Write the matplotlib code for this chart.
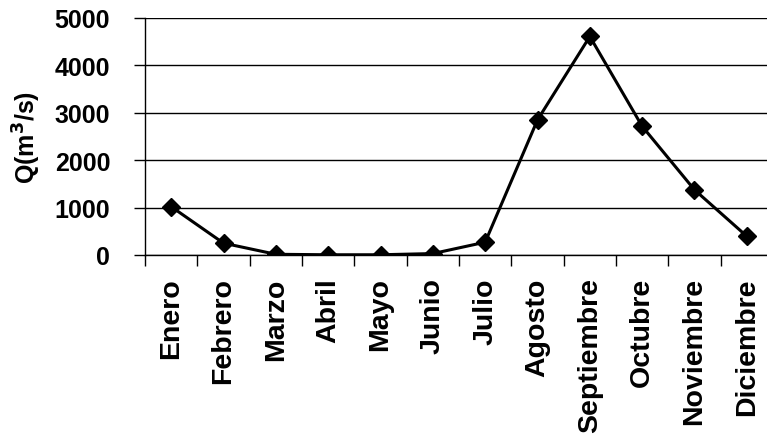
import matplotlib
matplotlib.use("Agg")
import matplotlib.pyplot as plt
from matplotlib.ticker import FixedLocator

months = ["Enero", "Febrero", "Marzo", "Abril", "Mayo", "Junio", "Julio",
          "Agosto", "Septiembre", "Octubre", "Noviembre", "Diciembre"]
flow = [1020, 250, 15, 5, 5, 30, 270, 2850, 4610, 2715, 1375, 395]
yticks = [0, 1000, 2000, 3000, 4000, 5000]

plt.rcParams["font.family"] = ["Liberation Sans", "DejaVu Sans"]
plt.rcParams["font.weight"] = "bold"

W, H = 767, 439
fig = plt.figure(figsize=(W / 100, H / 100), dpi=100)
left, right, top, bottom = 145, 773, 19, 256
ax = fig.add_axes([left / W, 1 - bottom / H, (right - left) / W, (bottom - top) / H])

x = list(range(len(months)))
ax.plot(x, flow, color="black", lw=2.2, marker="D", ms=9.5, mfc="black", mec="black")

ax.set_xlim(-0.5, len(months) - 0.5)
ax.set_ylim(0, 5000)
ax.set_yticks(yticks)
ax.set_yticklabels([str(v) for v in yticks], fontsize=18, fontweight="bold")
ax.set_xticks(x)
ax.set_xticklabels(months, rotation=90, fontsize=20.5, fontweight="bold", va="top")
ax.xaxis.set_minor_locator(FixedLocator([i - 0.5 for i in range(len(months) + 1)]))
ax.tick_params(axis="x", which="major", length=0, pad=16)
ax.tick_params(axis="x", which="minor", length=8, width=1, direction="out")
ax.tick_params(axis="y", length=8, width=1, direction="out", pad=17)

ax.grid(axis="y", color="black", lw=1)
ax.set_axisbelow(True)
for side in ("top", "right"):
    ax.spines[side].set_visible(False)
for side in ("left", "bottom"):
    ax.spines[side].set_linewidth(1)

ax.set_ylabel("Q(m$^3$/s)", fontsize=18, fontweight="bold")
ax.yaxis.set_label_coords(-(left - 43) / (right - left), 0.5)

fig.savefig("out.png", dpi=100, facecolor="white")
